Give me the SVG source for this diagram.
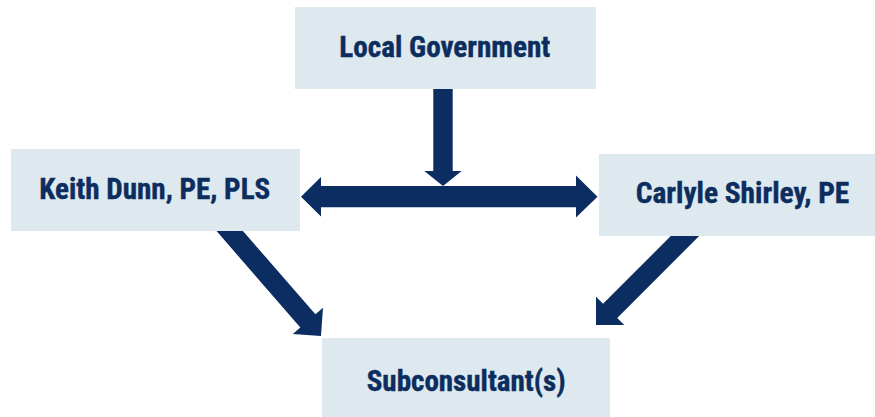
<svg xmlns="http://www.w3.org/2000/svg" width="875" height="417" viewBox="0 0 875 417">
  <style>
    .box { fill: #dde9ee; }
    .lbl { font-family: "Roboto Condensed", Roboto, "Liberation Sans", sans-serif; font-weight: bold; font-size: 29px; fill: #0c2d5e; stroke: #0c2d5e; stroke-width: 0.4px; }
    .arr { fill: #0b2d62; }
  </style>
  <defs>
    <polygon id="diag" points="-150,-10 -20,-10 -20,-20 0,0 -20,20 -20,10 -150,10"/>
  </defs>
  <rect width="875" height="417" fill="#ffffff"/>
  <g id="connectors" class="arr">
    <polygon points="433.3,85 452.7,85 452.7,171 461.7,171 443,186 424.3,171 433.3,171"/>
    <polygon points="301,196.7 321,177 321,186 576,186 576,175.5 597.5,196.7 576,217.5 576,207.3 321,207.3 321,216.5"/>
    <use href="#diag" transform="translate(321,336) rotate(49)"/>
    <use href="#diag" transform="translate(596,325) rotate(135)"/>
  </g>
  <g id="local-government">
    <rect class="box" x="295" y="7" width="301" height="82"/>
    <text class="lbl" x="339.3" y="56.7" textLength="211" lengthAdjust="spacingAndGlyphs">Local Government</text>
  </g>
  <g id="keith-dunn">
    <rect class="box" x="11" y="149" width="289" height="82"/>
    <text class="lbl" x="39.3" y="199.3" textLength="231" lengthAdjust="spacingAndGlyphs">Keith Dunn, PE, PLS</text>
  </g>
  <g id="carlyle-shirley">
    <rect class="box" x="599" y="154" width="276" height="82"/>
    <text class="lbl" x="635.7" y="203.3" textLength="213.6" lengthAdjust="spacingAndGlyphs">Carlyle Shirley, PE</text>
  </g>
  <g id="subconsultants">
    <rect class="box" x="322" y="338" width="288" height="79"/>
    <text class="lbl" x="366.7" y="390.7" textLength="199" lengthAdjust="spacingAndGlyphs">Subconsultant(s)</text>
  </g>
</svg>
